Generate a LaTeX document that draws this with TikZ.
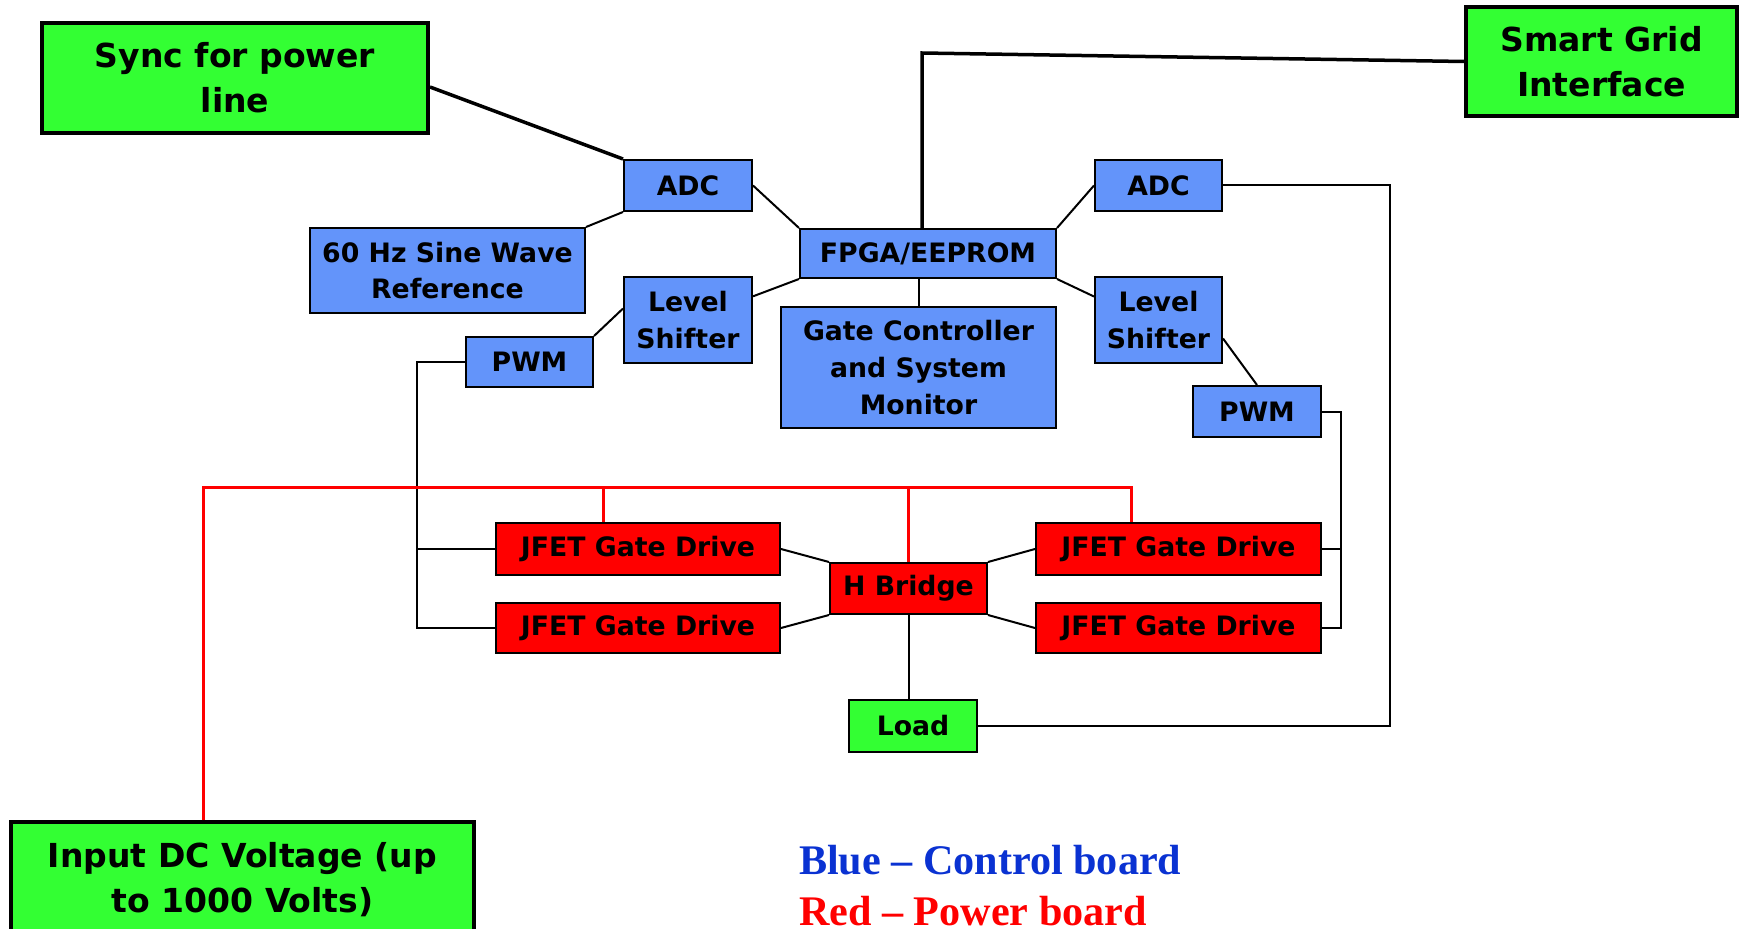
\documentclass[tikz,border=0pt]{standalone}
\usepackage{fontspec}
\usepackage{xcolor}
\setmainfont{DejaVu Sans}
\newfontfamily\legendfont{Liberation Serif}
\usetikzlibrary{calc}
\usetikzlibrary{positioning}

\definecolor{ctrlblue}{RGB}{99,148,250}
\definecolor{pwrred}{RGB}{255,0,0}
\definecolor{extgreen}{RGB}{51,255,51}
\definecolor{legblue}{RGB}{10,50,210}

\begin{document}
\begin{tikzpicture}[x=0.1mm,y=-0.1mm,-,line width=0.2mm]
 \tikzstyle{blk}=[draw, line width=0.2mm, inner sep=0pt, align=center,
   font=\fontsize{7.6}{10.4}\selectfont\bfseries]
 \tikzstyle{ctrl}=[blk, fill=ctrlblue]
 \tikzstyle{pwr}=[blk, fill=pwrred]
 \tikzstyle{ext}=[blk, fill=extgreen, line width=0.4mm,
   font=\fontsize{9.4}{12.8}\selectfont\bfseries]
 \tikzstyle{feed}=[draw=pwrred, line width=0.3mm]
 \tikzstyle{legend}=[anchor=base west, inner sep=0pt,
   font=\legendfont\fontsize{12}{14}\selectfont\bfseries]

 \useasboundingbox (0,0) rectangle (1739,929);
 \clip (0,0) rectangle (1739,929);

 % outside world
 \node[ext, minimum width=38.6mm, minimum height=11mm] (sync) at (235,78) {Sync for power\\line};
 \node[ext, minimum width=27.1mm, minimum height=10.9mm] (grid) at (1601.5,61.5) {Smart Grid\\Interface};
 \node[ext, minimum width=46.3mm, minimum height=11.6mm] (dcin) at (242.5,880) {Input DC Voltage (up\\to 1000 Volts)};
 \node[blk, fill=extgreen, minimum width=12.8mm, minimum height=5.2mm] (load) at (913,726) {Load};

 % control board
 \node[ctrl, minimum width=25.6mm, minimum height=4.9mm] (fpga) at (928,253.5) {FPGA/EEPROM};
 \node[ctrl, minimum width=12.8mm, minimum height=5.1mm] (adcL) at (688,185.5) {ADC};
 \node[ctrl, minimum width=12.7mm, minimum height=5.1mm] (adcR) at (1158.5,185.5) {ADC};
 \node[ctrl, minimum width=27.5mm, minimum height=8.5mm] (sine) at (447.5,270.5) {60 Hz Sine Wave\\Reference};
 \node[ctrl, minimum width=12.8mm, minimum height=8.6mm] (lvlL) at (688,320) {Level\\Shifter};
 \node[ctrl, minimum width=12.7mm, minimum height=8.6mm] (lvlR) at (1158.5,320) {Level\\Shifter};
 \node[ctrl, minimum width=27.5mm, minimum height=12.1mm] (gate) at (918.5,367.5) {Gate Controller\\and System\\Monitor};
 \node[ctrl, minimum width=12.7mm, minimum height=5mm] (pwmL) at (529.5,362) {PWM};
 \node[ctrl, minimum width=12.8mm, minimum height=5.1mm] (pwmR) at (1257,411.5) {PWM};

 % power board
 \node[pwr, minimum width=28.4mm, minimum height=5.2mm] (drvA) at (638,549) {JFET Gate Drive};
 \node[pwr, minimum width=28.4mm, minimum height=5mm] (drvB) at (638,628) {JFET Gate Drive};
 \node[pwr, minimum width=28.5mm, minimum height=5.2mm] (drvC) at (1178.5,549) {JFET Gate Drive};
 \node[pwr, minimum width=28.5mm, minimum height=5mm] (drvD) at (1178.5,628) {JFET Gate Drive};
 \node[pwr, minimum width=15.7mm, minimum height=5.1mm] (hbr) at (908.5,588.5) {H Bridge};

 \path
   (adcL.south west) edge (sine.north east)
   (adcL.east) edge (fpga.north west)
   (lvlL.20) edge (fpga.south west)
   (pwmL.north east) edge (lvlL.170)
   (fpga.north east) edge (adcR.west)
   (fpga.south east) edge (lvlR.160)
   (lvlR.-16) edge (pwmR.north)
   (gate.north) edge (gate.north |- fpga.south)
   (drvA.east) edge (hbr.north west)
   (drvB.east) edge (hbr.south west)
   (drvC.west) edge (hbr.north east)
   (drvD.west) edge (hbr.south east)
   (hbr.south) edge (hbr.south |- load.north);

 % long runs
 \draw[line width=0.35mm] ([yshift=-0.9mm]sync.east) -- (adcL.north west);
 \draw[line width=0.35mm] ([xshift=-0.6mm]fpga.north) -- ++(0,-175) -- (grid.west);
 \draw (adcR.east) -- ++(167,0) |- (load.east);
 \draw (pwmR.east) -- ++(19,0) |- (drvD.east);
 \draw (drvC.east) -- ++(19,0);
 \draw (pwmL.west) -- ++(-48,0) |- (drvB.west);
 \draw (drvA.west) -- ++(-78,0);

 % supply bus
 \coordinate (bus) at (203,487);
 \draw[feed] (dcin.north -| bus) -- (bus) -- ([xshift=-4.75mm]drvC.north |- bus) -- ([xshift=-4.75mm]drvC.north);
 \draw[feed] ([xshift=-3.5mm]drvA.north) -- ([xshift=-3.5mm]drvA.north |- bus);
 \draw[feed] (hbr.north) -- (hbr.north |- bus);

 \node[legend, text=legblue] (lblue) at (798,874) {Blue – Control board};
 \node[legend, text=pwrred] (lred) at (798,925) {Red – Power board};
\end{tikzpicture}
\end{document}
